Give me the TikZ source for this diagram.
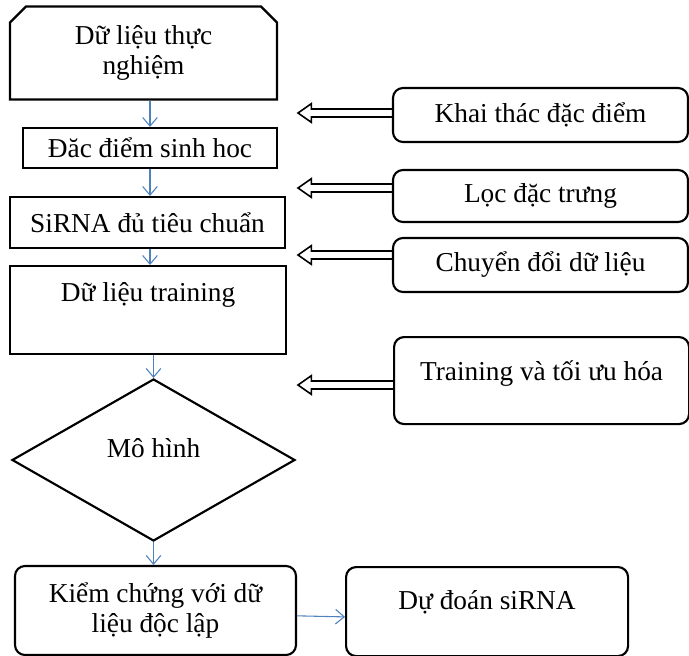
\documentclass[tikz,border=0pt]{standalone}
\usepackage{fontspec}
\setmainfont{Liberation Serif}
\usetikzlibrary{shapes.geometric,shapes.misc,arrows.meta}

\definecolor{flowblue}{RGB}{79,129,189}
\tikzset{
  box/.style={draw, line width=1.6pt, inner sep=0pt, align=center, font=\fontsize{20.5}{22.5}\selectfont},
  rbox/.style={box, rounded corners=7.5pt},
  flow/.style={draw=flowblue, line width=0.8pt, -{Straight Barb[length=6.5pt,width=11pt]}},
  feed/.style={draw, line width=1.2pt, to path={([yshift=3pt]\tikztostart) -- ([xshift=10pt,yshift=3pt]\tikztotarget) -- ([xshift=10pt,yshift=7pt]\tikztotarget) -- (\tikztotarget) -- ([xshift=10pt,yshift=-7pt]\tikztotarget) -- ([xshift=10pt,yshift=-3pt]\tikztotarget) -- ([yshift=-3pt]\tikztostart)}},
}

\begin{document}
\begin{tikzpicture}[x=0.75pt, y=-0.75pt]
  \useasboundingbox (0,0) rectangle (689,656);
  \node[box, chamfered rectangle, chamfered rectangle corners={north west,north east}, chamfered rectangle sep=6pt, minimum width=200.25pt, minimum height=69.75pt] (data) at (143.5,53) {Dữ liệu thực\\nghiệm};
  \node[box, minimum width=190.5pt, minimum height=30pt] (bio) at (150,148) {Đăc điểm sinh hoc};
  \node[box, minimum width=206.25pt, minimum height=38.25pt] (sirna) at (147.5,222.5) {SiRNA đủ tiêu chuẩn};
  \node[box, anchor=north west, minimum width=207pt, text height=26.25pt, text depth=39.75pt] (train) at (9,265) {Dữ liệu training};
  \node[box, diamond, minimum width=212.25pt, minimum height=121.5pt, text height=15pt, text depth=19.5pt] (model) at (153.5,460) {Mô hình};
  \node[rbox, minimum width=210.75pt, minimum height=66.75pt] (verify) at (155.5,610.5) {Kiểm chứng với dữ\\liệu độc lập};
  \node[rbox, anchor=north west, minimum width=211.5pt, text height=31.5pt, text depth=35.25pt] (predict) at (345,566) {Dự đoán siRNA};
  \node[rbox, minimum width=221.25pt, minimum height=40.5pt] (mine) at (540.5,115) {Khai thác đặc điểm};
  \node[rbox, minimum width=221.25pt, minimum height=39pt] (filt) at (540.5,196) {Lọc đặc trưng};
  \node[rbox, minimum width=221.25pt, minimum height=40.5pt] (conv) at (540.5,265) {Chuyển đổi dữ liệu};
  \node[rbox, anchor=north west, minimum width=221.25pt, text height=32.25pt, text depth=33pt] (tune) at (393,336) {Training và tối ưu hóa};
  \coordinate (minetip) at (298,113);
  \coordinate (filttip) at (298,188);
  \coordinate (convtip) at (298,255);
  \coordinate (tunetip) at (298,385);
  \draw[flow] (data.south -| bio.north) -- (bio.north);
  \draw[flow] (bio.south) -- (sirna.north -| bio.south);
  \draw[flow] (sirna.south -| bio.south) -- (train.north -| bio.south);
  \draw[flow] (train.south -| model.north) -- (model.north);
  \draw[flow] (model.south) -- (verify.north -| model.south);
  \draw[flow] ([yshift=-4pt]verify.east) -- ([yshift=-4pt]predict.west);
  \draw[feed] (mine.west |- minetip) to (minetip);
  \draw[feed] (filt.west |- filttip) to (filttip);
  \draw[feed] (conv.west |- convtip) to (convtip);
  \draw[feed] (tune.west |- tunetip) to (tunetip);
\end{tikzpicture}
\end{document}
